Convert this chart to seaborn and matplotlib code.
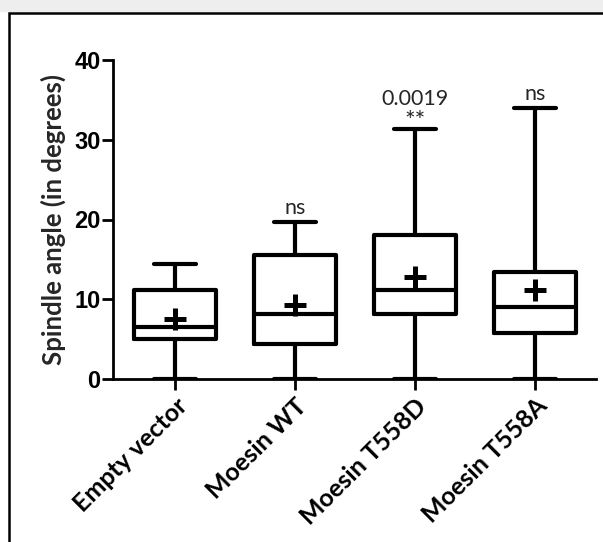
import matplotlib
matplotlib.use("Agg")
import matplotlib.pyplot as plt
import matplotlib.patches as mpatches
import numpy as np
import pandas as pd
import seaborn as sns

# Five-number summaries (min, Q1, median, Q3, max) and means per condition
groups = ["Empty vector", "Moesin WT", "Moesin T558D", "Moesin T558A"]
mins = [0.0, 0.0, 0.0, 0.0]
q1 = [5.0, 4.4, 8.1, 5.8]
medians = [6.5, 8.2, 11.2, 9.0]
q3 = [11.1, 15.6, 18.1, 13.4]
maxs = [14.4, 19.7, 31.4, 34.0]
means = [7.5, 9.3, 12.8, 11.2]

# Significance labels above each group
sig_top = ["", "ns", "0.0019", "ns"]
sig_stars = ["", "", "**", ""]

yticks = [0, 10, 20, 30, 40]
ylabel = "Spindle angle (in degrees)"

# Long-form table: with five points per group, the linear percentiles
# reproduce the summary exactly (Q1 = 2nd, median = 3rd, Q3 = 4th point).
rows = []
for g, a, b, c, d, e in zip(groups, mins, q1, medians, q3, maxs):
    for v in (a, b, c, d, e):
        rows.append({"group": g, "angle": v})
df = pd.DataFrame(rows)
df_mean = pd.DataFrame({"group": groups, "angle": means})

sns.set_style("ticks")
fig = plt.figure(figsize=(6.03, 5.42), dpi=100)
ax = fig.add_axes([113 / 603, 1 - 379 / 542, (596 - 113) / 603, (379 - 60) / 542])

lw = 3.0
sns.boxplot(
    data=df, x="group", y="angle", order=groups, ax=ax,
    whis=(0, 100), width=0.68, fill=False, color="black",
    linewidth=lw,
    boxprops=dict(linewidth=lw, color="black"),
    whiskerprops=dict(linewidth=lw, color="black"),
    capprops=dict(linewidth=lw, color="black"),
    medianprops=dict(linewidth=lw, color="black"),
    capwidths=0.35,
)
sns.scatterplot(
    data=df_mean, x="group", y="angle", ax=ax, marker="+", s=240,
    color="black", linewidth=3.6, zorder=5, legend=False,
)

ax.set_xlim(-0.517, 3.508)
ax.set_ylim(0, 40)
ax.set_yticks(yticks)
ax.set_xlabel("")
ax.set_ylabel(ylabel, fontsize=18.5, fontweight="bold", family="Lato", labelpad=6)

for s in ("top", "right"):
    ax.spines[s].set_visible(False)
for s in ("left", "bottom"):
    ax.spines[s].set_linewidth(2.0)
    ax.spines[s].set_color("black")
ax.spines["left"].set_bounds(0, 40)

ax.tick_params(axis="y", length=8, width=2.0, pad=1, labelsize=17, colors="black")
ax.tick_params(axis="x", length=8, width=2.0, pad=3, colors="black")
for t in ax.get_yticklabels():
    t.set_fontweight("bold")
    t.set_family("Liberation Sans")
ax.set_xticks(range(len(groups)))
ax.set_xticklabels(groups, rotation=45, ha="right", rotation_mode="anchor",
                   fontsize=18, fontweight="bold", family="Lato")

for i, (top, star, mx) in enumerate(zip(sig_top, sig_stars, maxs)):
    if star:
        ax.text(i, mx - 0.1, star, ha="center", va="baseline", fontsize=18,
                family="Lato")
        ax.text(i, mx + 2.5, top, ha="center", va="bottom", fontsize=15.5,
                family="Lato")
    elif top:
        ax.text(i, mx + 0.5, top, ha="center", va="bottom", fontsize=15.5,
                family="Lato")

# Figure frame and the pale strip above it
fig.patches.append(mpatches.Rectangle((0, 1 - 11 / 542), 1, 11 / 542,
                                      transform=fig.transFigure,
                                      color="#eeeeee", zorder=0))
fig.patches.append(mpatches.Rectangle((9 / 603, -0.05), 1.1, 1.05 - 13 / 542,
                                      transform=fig.transFigure, fill=False,
                                      edgecolor="black", linewidth=1.8,
                                      zorder=1))

fig.savefig("out.png", dpi=100)
